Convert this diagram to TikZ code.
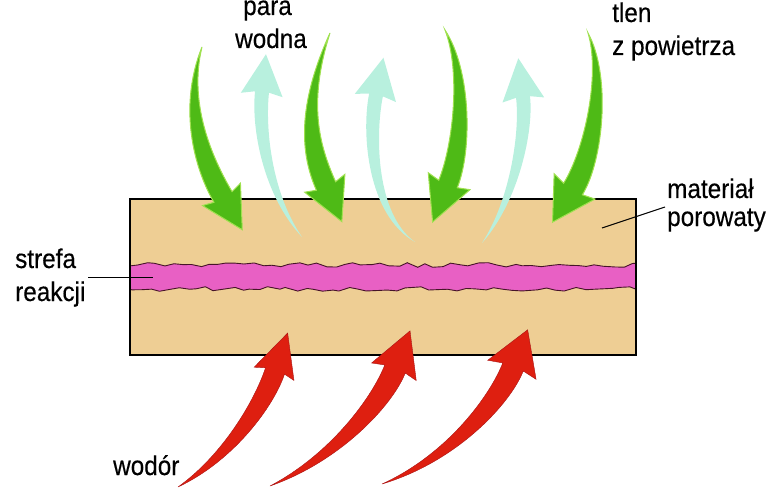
\documentclass[tikz,border=0pt]{standalone}
\usepackage{fontspec}
\setmainfont{Liberation Sans}[FakeStretch=0.9,FakeBold=0.4]
\usetikzlibrary{calc,decorations.pathmorphing}
\definecolor{porousfill}{RGB}{238,206,148}
\definecolor{zonefill}{RGB}{232,96,196}
\definecolor{zoneedge}{RGB}{70,20,40}
\definecolor{greenfill}{RGB}{78,186,22}
\definecolor{greenedge}{RGB}{160,225,80}
\definecolor{mintfill}{RGB}{184,240,222}
\definecolor{redfill}{RGB}{222,31,16}
\definecolor{rededge}{RGB}{170,20,20}
\tikzset{
  lbl/.style={inner sep=0pt, anchor=base west, font=\fontsize{27}{32}\selectfont},
  leader/.style={draw=black, line width=1pt},
  oxyarrow/.style={fill=greenfill, draw=greenedge, line width=1pt},
  steamarrow/.style={fill=mintfill},
  hydroarrow/.style={fill=redfill, draw=rededge, line width=0.4pt},
}
% style, tail, c1, c2, base, tail half width, body half width, barb half width, head length
\newcommand\flowarr[9]{%
  \coordinate (fT) at #2; \coordinate (fC1) at #3; \coordinate (fC2) at #4; \coordinate (fB) at #5;
  \coordinate (fL1) at ($(fC1)!#6!-90:(fC2)$);
  \coordinate (fR1) at ($(fC1)!#6!90:(fC2)$);
  \coordinate (fL2) at ($(fC2)!#7!-90:(fB)$);
  \coordinate (fR2) at ($(fC2)!#7!90:(fB)$);
  \coordinate (fL) at ($(fB)!#7!90:(fC2)$);
  \coordinate (fR) at ($(fB)!#7!-90:(fC2)$);
  \coordinate (fBb) at ($(fB)!3pt!(fC2)$);
  \coordinate (fHL) at ($(fBb)!#8!90:(fC2)$);
  \coordinate (fHR) at ($(fBb)!#8!-90:(fC2)$);
  \coordinate (fTip) at ($(fB)!-#9!(fC2)$);
  \path[#1] (fT) .. controls (fL1) and (fL2) .. (fL) -- (fHL) -- (fTip) -- (fHR) -- (fR) .. controls (fR2) and (fR1) .. (fT) -- cycle;
}
\begin{document}
\begin{tikzpicture}[x=1pt,y=-1pt]
\useasboundingbox (0,0) rectangle (768,489);
% porous material
\node[fill=porousfill, draw=none, minimum width=506pt, minimum height=156pt, inner sep=0pt, outer sep=0pt, anchor=north west] (box) at (130,199) {};
% reaction zone
\begin{scope}
  \clip (box.north west) rectangle (box.south east);
  \pgfmathsetseed{7}
  \path[fill=zonefill, draw=zoneedge, line width=0.9pt, decorate,
        decoration={random steps, segment length=9pt, amplitude=2.3pt}]
    (110,265) -- (656,265) -- (656,289) -- (110,289) -- cycle;
\end{scope}
\draw[line width=1.5pt] (box.north west) rectangle (box.south east);
% steam (up)
\flowarr{steamarrow}{(302,237)}{(268,195)}{(258,130)}{(262,92)}{4.5pt}{7pt}{21pt}{38pt}
\flowarr{steamarrow}{(415,242)}{(372,215)}{(368,135)}{(376,95)}{4.5pt}{7pt}{21pt}{38pt}
\flowarr{steamarrow}{(482,243)}{(515,200)}{(527,130)}{(523,97)}{4.5pt}{7pt}{21pt}{39pt}
% oxygen (down)
\flowarr{oxyarrow}{(202,47)}{(183,105)}{(203,163)}{(223,197)}{5.5pt}{10.5pt}{22pt}{38pt}
\flowarr{oxyarrow}{(330,33)}{(302,105)}{(310,150)}{(326,186)}{5.5pt}{10.5pt}{22pt}{39pt}
\flowarr{oxyarrow}{(445,30)}{(466,70)}{(463,147)}{(448,184)}{5.5pt}{10pt}{22.5pt}{41pt}
\flowarr{oxyarrow}{(588,33)}{(606,75)}{(594,155)}{(573,189)}{5.5pt}{11pt}{24pt}{39pt}
% hydrogen (up)
\flowarr{hydroarrow}{(178,487)}{(228,458)}{(264,404)}{(275,371)}{6pt}{10pt}{21pt}{40pt}
\flowarr{hydroarrow}{(270,486)}{(335,458)}{(382,402)}{(395,369)}{6pt}{11pt}{24pt}{41pt}
\flowarr{hydroarrow}{(382,484)}{(452,458)}{(500,400)}{(513,367)}{6pt}{11pt}{26pt}{40pt}
% labels
\node[lbl] (para) at (243,15) {para};
\node[lbl] (wodna) at (235,48) {wodna};
\node[lbl] (tlen) at (612,22) {tlen};
\node[lbl] (zpow) at (612,55) {z powietrza};
\node[lbl] (mat) at (667,198) {materiał};
\node[lbl] (por) at (667,226) {porowaty};
\node[lbl] (strefa) at (15,268) {strefa};
\node[lbl] (reakcji) at (15,301) {reakcji};
\node[lbl] (wodor) at (113,475) {wodór};
% leader lines
\coordinate (sz1) at (88,277);
\coordinate (sz2) at (153,277);
\draw[leader] (sz1) -- (sz2);
\coordinate (pm1) at (665,207);
\coordinate (pm2) at (602,228);
\draw[leader] (pm1) -- (pm2);
\end{tikzpicture}
\end{document}
